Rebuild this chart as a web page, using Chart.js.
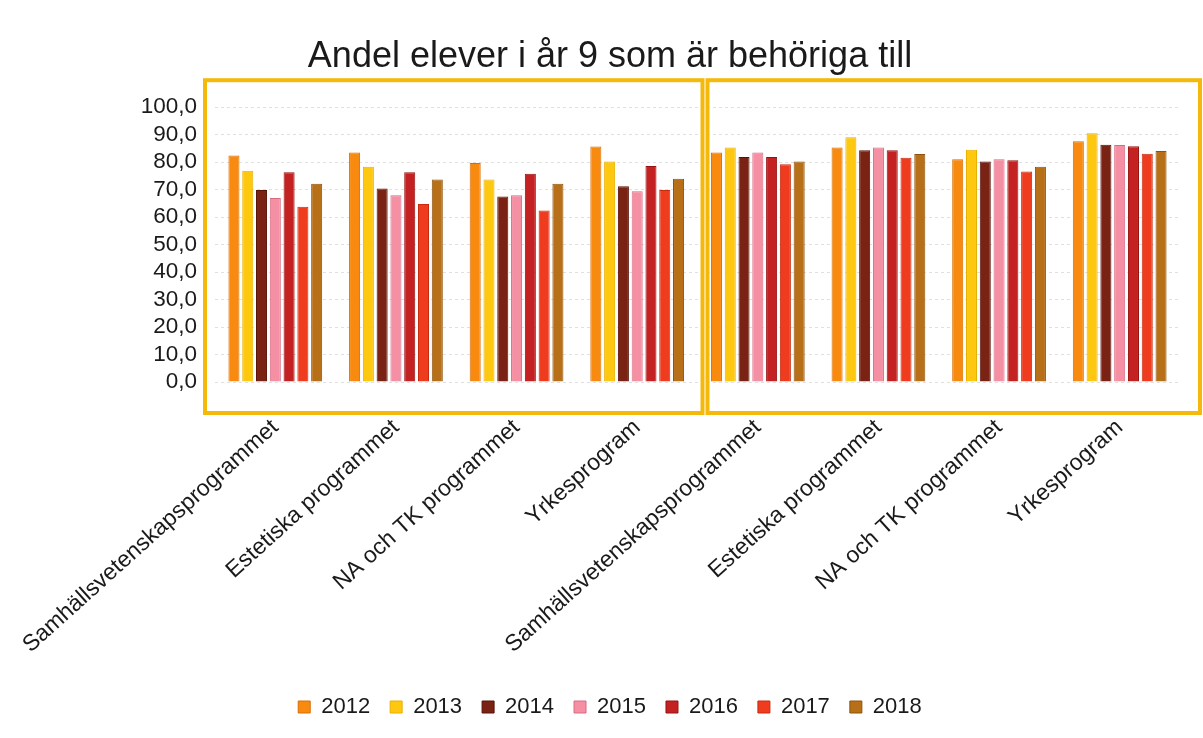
<!DOCTYPE html>
<html>
<head>
<meta charset="utf-8">
<script src="https://cdn.jsdelivr.net/npm/chart.js@4/dist/chart.umd.min.js"></script>
<style>
  html, body { margin: 0; padding: 0; background: #fff; }
  #wrap { width: 1203px; height: 738px; }
</style>
</head>
<body>
<div id="wrap"><canvas id="behoriga"></canvas></div>
<script>
// program labels (two blocks of the same four programmes)
const programs = ['Samhällsvetenskapsprogrammet', 'Estetiska programmet', 'NA och TK programmet', 'Yrkesprogram',
                  'Samhällsvetenskapsprogrammet', 'Estetiska programmet', 'NA och TK programmet', 'Yrkesprogram'];
const years = ['2012', '2013', '2014', '2015', '2016', '2017', '2018'];

// share (%) per year, one value per programme label
const y2012 = [82.4, 83.5, 79.7, 85.7, 83.5, 85.3, 81.1, 87.6];
const y2013 = [76.9, 78.3, 73.7, 80.2, 85.3, 89.1, 84.5, 90.5];
const y2014 = [69.9, 70.4, 67.5, 71.2, 81.9, 84.3, 80.2, 86.3];
const y2015 = [67.0, 68.0, 68.0, 69.4, 83.5, 85.3, 81.1, 86.2];
const y2016 = [76.3, 76.3, 75.8, 78.6, 81.9, 84.3, 80.7, 85.8];
const y2017 = [63.8, 64.8, 62.4, 69.9, 79.2, 81.6, 76.6, 83.1];
const y2018 = [72.1, 73.7, 72.1, 74.0, 80.2, 83.0, 78.3, 84.1];

const fills   = ['#F98A10', '#FFC810', '#7A2214', '#F590A4', '#C42222', '#F03C1E', '#B87018'];
const borders = ['#D86E00', '#E8B000', '#571206', '#D86A82', '#981010', '#C82A10', '#8E5208'];

const series = [y2012, y2013, y2014, y2015, y2016, y2017, y2018];

// the two golden frames that mark the left and right halves
const frames = {
  id: 'frames',
  afterDraw(chart) {
    const {ctx, chartArea, scales} = chart;
    const x = scales.x;
    const half = (x.getPixelForValue(1) - x.getPixelForValue(0)) / 2;
    const mid = x.getPixelForValue(3) + half;
    const top = chartArea.top - 27, bot = chartArea.bottom + 31;
    ctx.save();
    ctx.strokeStyle = '#F5B90C';
    ctx.lineWidth = 4;
    ctx.strokeRect(chartArea.left - 10, top, mid + 5 - (chartArea.left - 10), bot - top);
    ctx.strokeRect(mid + 10, top, chartArea.right + 20 - (mid + 10), bot - top);
    ctx.restore();
  }
};

Chart.defaults.font.family = '"Liberation Sans", Arial, sans-serif';
Chart.defaults.color = '#1a1a1a';

new Chart(document.getElementById('behoriga'), {
  type: 'bar',
  data: {
    labels: programs,
    datasets: years.map((yr, i) => ({
      label: yr,
      data: series[i],
      backgroundColor: fills[i],
      borderColor: borders[i],
      borderWidth: 1,
      barPercentage: 0.8,
      categoryPercentage: 0.8
    }))
  },
  options: {
    responsive: true,
    maintainAspectRatio: false,
    animation: false,
    layout: { padding: { left: 40, right: 23, top: 0, bottom: 10 } },
    plugins: {
      title: {
        display: true,
        text: 'Andel elever i år 9 som är behöriga till',
        font: { size: 36, weight: 'normal' },
        color: '#1a1a1a',
        padding: { top: 35, bottom: 29 }
      },
      legend: {
        position: 'bottom',
        labels: { boxWidth: 12, boxHeight: 12, padding: 20, font: { size: 22 } }
      },
      tooltip: { enabled: false }
    },
    scales: {
      x: {
        grid: { display: false },
        border: { display: false },
        ticks: { minRotation: 42, maxRotation: 42, padding: 24, autoSkip: false, font: { size: 23 } },
        afterFit(scale) {
          scale.height = 294;
          scale.paddingLeft = 0;
          scale.paddingRight = 0;
        }
      },
      y: {
        min: 0,
        max: 100,
        grid: { color: 'rgba(0,0,0,0.12)', drawTicks: false },
        border: { display: false, dash: [3, 3] },
        ticks: {
          stepSize: 10,
          autoSkip: false,
          padding: 18,
          font: { size: 22.5 },
          callback: v => v.toFixed(1).replace('.', ',')
        },
        afterFit(scale) { scale.width = 175; }
      }
    }
  },
  plugins: [frames]
});
</script>
</body>
</html>
